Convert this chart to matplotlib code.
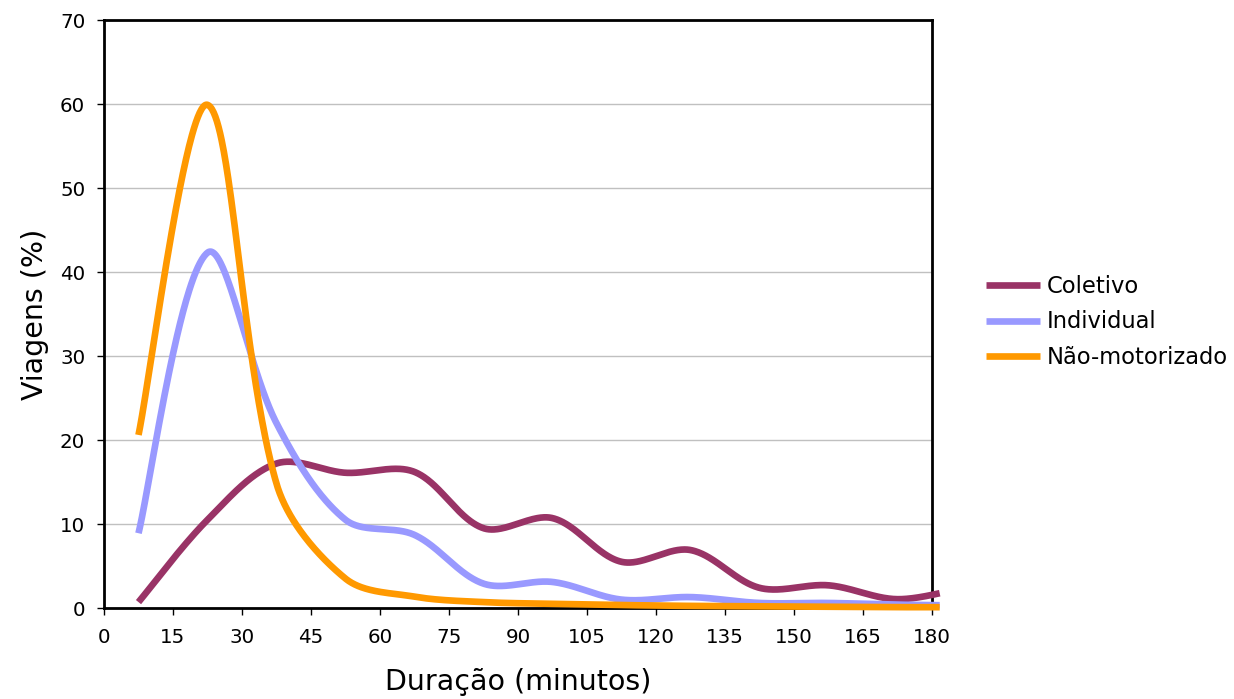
import numpy as np
import matplotlib
matplotlib.use("Agg")
import matplotlib.pyplot as plt

# Data (bin midpoints, minutes) and shares of trips (%)
durations = [7.5, 22.5, 37.5, 52.5, 67.5, 82.5, 97.5, 112.5, 127.5, 142.5, 157.5, 172.5, 187.5]
coletivo = [0.7, 10.5, 17.2, 16.1, 16.2, 9.5, 10.7, 5.5, 6.9, 2.4, 2.7, 1.05, 2.5]
individual = [8.9, 42.3, 22.0, 10.5, 8.7, 2.9, 3.1, 1.0, 1.3, 0.6, 0.6, 0.4, 0.3]
nao_motorizado = [20.6, 59.9, 14.8, 3.5, 1.35, 0.7, 0.5, 0.35, 0.25, 0.2, 0.15, 0.1, 0.1]

series_names = ["Coletivo", "Individual", "Não-motorizado"]
colors = ["#993366", "#9999FF", "#FF9900"]
x_ticks = list(range(0, 181, 15))
y_ticks = list(range(0, 71, 10))

SX, SY = 4.6, 8.4  # approx pixels per data unit, for smoothing in screen space


def excel_smooth(x, y, n=80, tension=1.0 / 3.0):
    P = np.column_stack([np.asarray(x, float) * SX, np.asarray(y, float) * SY])
    m = len(P)
    out = []
    for i in range(m - 1):
        p0 = P[i - 1] if i > 0 else P[i]
        p1 = P[i]
        p2 = P[i + 1]
        p3 = P[i + 2] if i + 2 < m else P[i + 1]
        d01 = np.linalg.norm(p1 - p0)
        d12 = np.linalg.norm(p2 - p1)
        d23 = np.linalg.norm(p3 - p2)
        f1 = d12 / (d01 + d12) if (d01 + d12) > 0 else 0.5
        f2 = d12 / (d12 + d23) if (d12 + d23) > 0 else 0.5
        if i == 0:
            f1 = 0.5
        if i + 2 >= m:
            f2 = 0.5
        c1 = p1 + tension * f1 * (p2 - p0)
        c2 = p2 - tension * f2 * (p3 - p1)
        t = np.linspace(0, 1, n)[:, None]
        seg = ((1 - t) ** 3) * p1 + 3 * ((1 - t) ** 2) * t * c1 + 3 * (1 - t) * t ** 2 * c2 + t ** 3 * p2
        if i > 0:
            seg = seg[1:]
        out.append(seg)
    pts = np.vstack(out)
    return pts[:, 0] / SX, pts[:, 1] / SY


fig = plt.figure(figsize=(12.34, 6.99), dpi=100)
ax = fig.add_axes([104 / 1234, 1 - 608 / 699, (932 - 104) / 1234, (608 - 20) / 699])

x_end = 181.7
for name, vals, c in zip(series_names, [coletivo, individual, nao_motorizado], colors):
    xs, ys = excel_smooth(durations, vals)
    mask = xs <= x_end
    ax.plot(xs[mask], ys[mask], color=c, lw=4.8, label=name, clip_on=False,
            solid_capstyle="butt", solid_joinstyle="round", zorder=3)

ax.set_xlim(0, 180)
ax.set_ylim(0, 70)
ax.set_xticks(x_ticks)
ax.set_yticks(y_ticks)
ax.yaxis.grid(True, color="#C0C0C0", lw=1.0)
ax.set_axisbelow(True)
for s in ax.spines.values():
    s.set_color("black")
    s.set_linewidth(2.0)
ax.tick_params(axis="both", direction="out", length=5, width=1, labelsize=14.3, colors="black")
ax.tick_params(axis="x", pad=9.5)
ax.tick_params(axis="y", pad=8.5)

ax.set_xlabel("Duração (minutos)", fontsize=20.5)
ax.set_ylabel("Viagens (%)", fontsize=20.5)
ax.xaxis.set_label_coords(0.5, -(682 - 608) / 588)
ax.yaxis.set_label_coords((35 - 104) / 828, 0.5)
ax.xaxis.label.set_va("center")
ax.yaxis.label.set_va("center")

leg = fig.legend(loc="center left", bbox_to_anchor=(986 / 1234, 1 - 322 / 699), frameon=False,
                 fontsize=16.3, handlelength=2.4, handletextpad=0.28, labelspacing=0.57,
                 borderaxespad=0, borderpad=0)
for h in leg.get_lines():
    h.set_linewidth(4.8)

fig.savefig("out.png", dpi=100)
